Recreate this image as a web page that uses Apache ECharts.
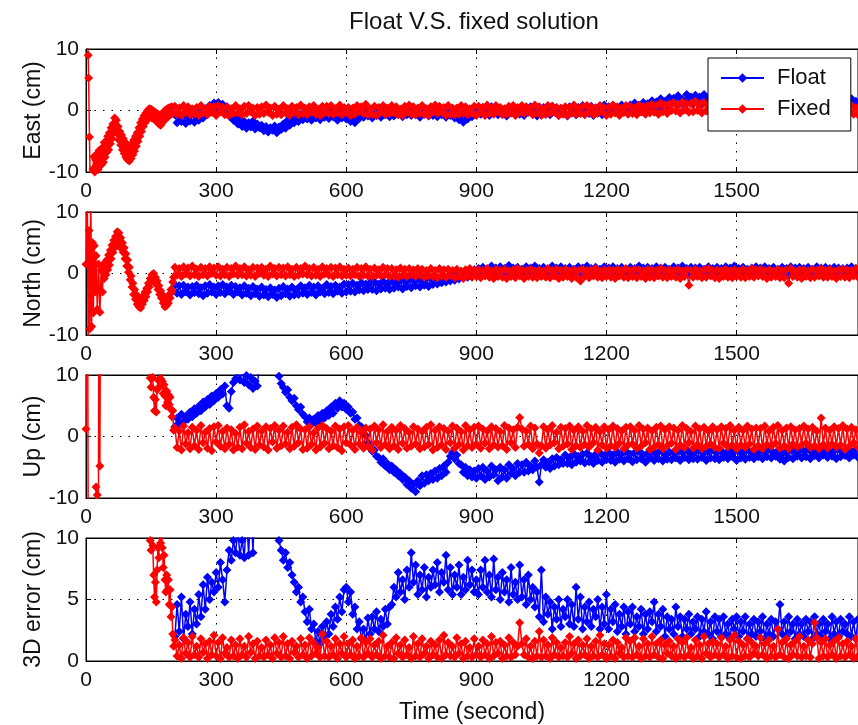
<!DOCTYPE html>
<html><head><meta charset="utf-8">
<script src="https://cdn.jsdelivr.net/npm/echarts@6/dist/echarts.min.js"></script>
<style>html,body{margin:0;padding:0;background:#fff}#c{width:858px;height:725px}</style>
</head><body><div id="c"></div>
<script>
// ---------- DATA (cm, time in seconds) ----------
const titleText = 'Float V.S. fixed solution';
const panelNames = ['East (cm)', 'North (cm)', 'Up (cm)', '3D error (cm)'];
const xTicks = [0, 300, 600, 900, 1200, 1500];
const xName = 'Time (second)';

// sample times of the steady part: every 5 s from 205 to 1800
const T = [];
for (let t = 205; t <= 1800; t += 5) T.push(t);

// early convergence phase of the fixed solution, [time, value]
const E_fixEarly = [[3,12],[5,9],[6,5.3],[8,-4.3],[10,-14],[14,-14],[16,-9.5],[18,-7.5],[20,-10],[22,-8],[24,-10.4],[26,-7],[28,-9.6],[30,-6.5],[32,-9],[34,-7.2],[36,-8.8],[38,-6],[40,-8.4],[42,-5.2],[44,-7.6],[46,-5],[48,-6.8],[50,-4.2],[52,-6.4],[54,-3.6],[56,-5.4],[58,-2.8],[60,-4.6],[62,-2.2],[64,-3.6],[66,-1.2],[68,-2.8],[70,-1.6],[72,-3.8],[74,-2.6],[76,-4.8],[78,-3.4],[80,-5.6],[82,-4.0],[84,-6.4],[86,-4.6],[88,-7.0],[90,-5.2],[92,-7.6],[94,-5.4],[96,-8.0],[98,-6.0],[100,-8.2],[102,-5.8],[104,-7.8],[106,-5.4],[108,-7.2],[110,-4.8],[112,-6.6],[114,-4.2],[116,-5.8],[118,-3.6],[120,-5.0],[122,-2.8],[124,-4.2],[126,-2.0],[128,-3.4],[130,-1.4],[132,-2.6],[134,-0.8],[136,-2.0],[138,-0.4],[140,-1.6],[142,0.0],[144,-1.2],[146,0.3],[148,-1.0],[150,0.2],[152,-1.2],[154,0.0],[156,-1.4],[158,-0.2],[160,-1.6],[162,-0.4],[164,-1.8],[166,-0.6],[168,-2.2],[170,-0.8],[172,-2.4],[174,-0.6],[176,-2.0],[178,-0.4],[180,-1.6],[182,0.0],[184,-1.4],[186,0.2],[188,-1.0],[190,0.4],[192,-0.8],[194,0.5],[196,-0.6],[198,0.6],[200,-0.5]];
const N_fixEarly = [[0,1.5],[3,14],[5,-14],[7,7],[9,-9],[11,14],[13,-8.6],[15,5],[17,-6.4],[19,4.5],[21,-3],[23,2.9],[26,-5.8],[29,1.5],[32,-6.3],[35,0.5],[38,-3],[40,1.4],[42,-0.8],[44,1.8],[46,-0.2],[48,2.2],[50,0.6],[52,3.0],[54,1.4],[56,3.8],[58,2.4],[60,4.6],[62,3.4],[64,5.4],[66,4.2],[68,6.0],[70,4.8],[72,6.8],[74,5.6],[76,6.6],[78,4.8],[80,5.8],[82,4.0],[84,5.0],[86,3.4],[88,4.2],[90,2.4],[92,3.2],[94,1.2],[96,2.2],[98,0.2],[100,1.0],[102,-1.0],[104,-0.4],[106,-2.2],[108,-1.6],[110,-3.4],[112,-2.6],[114,-4.2],[116,-3.4],[118,-5.0],[120,-4.0],[122,-5.4],[124,-4.4],[126,-5.6],[128,-4.2],[130,-5.0],[132,-3.6],[134,-4.4],[136,-3.0],[138,-3.8],[140,-2.4],[142,-3.0],[144,-1.6],[146,-2.2],[148,-0.8],[150,-1.4],[152,-0.2],[154,-1.0],[156,0.0],[158,-1.2],[160,-0.6],[162,-1.8],[164,-1.2],[166,-2.6],[168,-2.0],[170,-3.4],[172,-2.8],[174,-4.0],[176,-3.4],[178,-4.8],[180,-4.0],[182,-5.4],[184,-4.4],[186,-5.2],[188,-4.0],[190,-4.8],[192,-3.4],[194,-4.0],[196,-2.6],[198,-3.0],[200,-1.4],[202,-0.6]];
const U_fixEarly = [[0,1.2],[3,40],[6,-40],[20,-40],[23,-8.2],[26,-9.5],[28,-40],[30,40],[32,-4.8],[34,40],[146,40],[148,9.5],[150,8],[152,10.4],[154,9.6],[156,6.4],[158,4.2],[160,6.0],[162,4.0],[164,7.6],[166,9.2],[168,8.0],[170,10.4],[172,9.4],[174,10.8],[176,9.0],[178,7.0],[180,8.4],[182,6.6],[184,5.0],[186,7.4],[188,5.6],[190,6.8],[192,5.2],[194,6.4],[196,4.4],[198,3.2],[200,4.2],[202,1.0]];
const D_fixEarly = [[0,40],[146,40],[148,9.8],[150,9.0],[152,10.5],[154,9.4],[156,7.0],[158,5.2],[160,6.4],[162,4.8],[164,7.4],[166,9.2],[168,8.4],[170,10.6],[172,9.6],[174,10.8],[176,9.2],[178,7.6],[180,8.6],[182,6.6],[184,5.6],[186,7.0],[188,5.8],[190,6.6],[192,4.6],[194,5.8],[196,3.6],[198,4.4],[200,2.2],[202,1.2]];

// steady part, one value per entry of T (10 values = 50 s per row)
const E_fix = [
0.7,-0.6,0.4,-0.8,0.8,-0.3,0.6,-0.7,0.3,-0.5, 0.5,-0.8,0.8,-0.4,0.2,-0.7,0.7,-0.2,0.6,-0.8,
0.8,-0.2,0.5,-0.7,0.6,-0.8,0.3,-0.5,0.8,-0.4, 0.3,-0.7,0.7,-0.5,0.8,-0.2,0.4,-0.8,0.5,-0.6,
0.6,-0.5,0.9,-0.3,0.4,-0.8,0.7,-0.6,0.2,-0.7, 0.8,-0.4,0.3,-0.8,0.7,-0.2,0.5,-0.7,0.9,-0.5,
0.4,-0.7,0.6,-0.3,0.8,-0.6,0.2,-0.8,0.7,-0.4, 0.7,-0.5,0.8,-0.6,0.3,-0.4,0.9,-0.7,0.5,-0.3,
0.5,-0.8,0.4,-0.6,0.8,-0.2,0.6,-0.5,1.0,-0.7, 0.3,-0.6,0.7,-0.8,0.5,-0.3,0.8,-0.6,0.4,-0.5,
0.8,-0.4,0.6,-0.7,0.2,-0.8,0.7,-0.3,0.9,-0.6, 0.6,-0.7,0.4,-0.5,0.8,-0.6,0.3,-0.8,0.6,-0.2,
0.9,-0.5,0.7,-0.3,0.5,-0.8,0.8,-0.6,0.4,-0.7, 0.4,-0.6,0.8,-0.4,0.6,-0.7,0.3,-0.5,0.7,-0.8,
0.7,-0.3,0.5,-0.8,0.9,-0.5,0.4,-0.6,0.8,-0.2, 0.5,-0.7,0.3,-0.6,0.7,-0.4,0.8,-0.8,0.5,-0.3,
0.8,-0.5,0.6,-0.2,0.4,-0.7,0.9,-0.4,0.6,-0.8, 0.3,-0.6,0.8,-0.5,0.7,-0.3,0.5,-0.8,0.4,-0.6,
0.6,-0.8,0.5,-0.4,0.9,-0.6,0.3,-0.5,0.7,-0.7, 0.8,-0.3,0.6,-0.7,0.4,-0.5,0.8,-0.2,0.5,-0.8,
0.5,-0.6,0.9,-0.4,0.6,-0.8,0.4,-0.3,0.8,-0.6, 0.7,-0.5,0.4,-0.7,0.9,-0.2,0.6,-0.6,0.8,-0.4,
1.0,-0.3,0.8,-0.6,1.2,-0.2,0.9,-0.5,1.1,0.0, 1.3,-0.1,0.9,-0.4,1.4,0.1,1.0,-0.3,1.2,-0.2,
1.5,0.0,1.1,-0.4,1.3,-0.1,0.9,-0.5,1.2,-0.2, 1.0,-0.4,1.2,-0.3,0.8,-0.6,1.1,-0.2,0.9,-0.5,
0.8,-0.6,0.6,-0.4,0.9,-0.7,0.5,-0.3,0.7,-0.5, 0.6,-0.7,0.8,-0.5,0.4,-0.6,0.9,-0.3,0.7,-0.8,
0.7,-0.4,0.5,-0.8,0.8,-0.5,0.3,-0.6,0.9,-0.4, 0.5,-0.6,0.9,-0.3,0.6,-0.7,0.8,-0.5,0.4,-0.6,
0.8,-0.5,0.6,-0.7,0.4,-0.3,0.9,-0.6,0.7,-0.4, 0.6,-0.3,0.8,-0.6,0.5,-0.7,0.7,-0.4,0.9,-0.5];
const E_float = [
-0.7,-2.0,-0.9,-1.8,-0.6,-2.1,-1.0,-1.7,-0.5,-1.9, -0.8,-1.6,-0.2,-1.2,0.3,-0.6,0.8,-0.3,1.2,0.2,
1.3,0.1,1.0,-0.2,0.6,-0.9,-0.4,-1.6,-1.1,-2.2, -1.5,-2.6,-1.8,-2.9,-2.0,-2.7,-1.7,-3.0,-2.2,-2.8,
-2.4,-3.3,-2.6,-3.5,-2.8,-3.2,-2.5,-3.6,-2.7,-3.1, -2.2,-2.9,-1.6,-2.4,-1.3,-2.0,-0.9,-1.8,-0.7,-1.5,
-0.5,-1.4,-0.3,-1.6,-0.6,-1.2,-0.2,-1.5,-0.4,-1.1, -0.3,-1.3,0.1,-1.0,-0.5,-1.6,-0.1,-1.2,-0.4,-1.4,
-0.6,-1.8,-0.9,-2.0,-0.5,-1.3,-0.2,-1.1,0.1,-0.9, -0.4,-1.2,0.2,-0.8,-0.3,-1.1,0.1,-0.7,-0.2,-1.0,
-0.1,-0.9,0.3,-0.6,-0.2,-1.0,0.2,-0.7,0.0,-0.8, 0.1,-0.7,-0.2,-1.1,0.2,-0.6,-0.3,-0.9,0.1,-0.8,
-0.2,-1.0,0.2,-0.7,-0.1,-1.1,0.0,-0.8,-0.3,-1.2, -0.4,-1.5,-0.8,-1.9,-0.6,-1.4,-0.2,-1.0,0.1,-0.7,
0.3,-0.6,0.5,-0.4,0.1,-0.8,0.6,-0.3,0.2,-0.7, 0.4,-0.5,0.2,-0.9,0.5,-0.4,0.7,-0.2,0.3,-0.6,
0.2,-0.8,0.5,-0.3,0.6,-0.6,0.1,-0.9,0.4,-0.4, 0.5,-0.6,0.3,-0.7,0.7,-0.2,0.4,-0.8,0.2,-0.5,
0.4,-0.9,0.6,-0.4,0.2,-0.7,0.5,-0.3,0.8,-0.6, 0.3,-0.5,0.7,-0.8,0.4,-0.2,0.6,-0.7,0.9,-0.3,
0.6,-0.4,0.8,-0.2,0.4,-0.6,0.9,-0.3,0.5,-0.1, 0.9,0.0,1.2,0.2,0.8,-0.2,1.3,0.4,1.1,0.3,
1.6,0.6,1.4,0.5,1.9,0.8,1.5,0.7,2.1,1.0, 2.0,1.0,2.4,1.2,1.8,0.9,2.6,1.4,2.2,1.1,
2.5,1.3,2.2,1.0,2.6,1.5,2.0,1.2,2.3,1.1, 1.9,0.9,2.2,1.2,1.7,0.8,2.0,1.1,1.8,1.0,
2.0,1.0,1.7,0.8,2.1,1.1,1.6,0.7,1.9,1.2, 1.8,0.9,2.0,1.1,1.5,0.6,1.9,1.0,1.7,0.8,
2.1,1.0,1.6,0.7,1.9,1.2,1.5,0.9,2.0,1.1, 1.7,0.8,2.0,1.1,1.6,0.7,1.8,1.0,1.5,0.9,
1.9,1.0,1.6,0.8,2.1,1.2,1.7,0.9,1.8,1.0, 1.6,0.7,1.9,1.1,1.5,0.8,2.0,1.2,1.7,0.9];
const N_fix = [
1.0,-0.3,0.8,-0.5,1.1,-0.1,0.9,-0.4,1.2,-0.2, 0.7,-0.5,1.0,-0.2,0.8,-0.4,1.1,0.0,0.9,-0.3,
1.1,-0.4,0.7,-0.2,1.0,-0.5,0.8,-0.1,1.2,-0.3, 0.8,-0.2,1.1,-0.4,0.6,-0.3,1.0,-0.5,0.9,0.0,
1.0,-0.3,0.7,-0.5,1.2,-0.1,0.8,-0.4,1.0,-0.2, 0.9,-0.4,1.1,-0.2,0.7,-0.5,1.0,-0.3,0.8,-0.1,
1.2,-0.2,0.8,-0.4,1.0,-0.3,0.7,-0.5,1.1,-0.1, 0.8,-0.3,1.0,-0.5,0.9,-0.2,1.1,-0.4,0.7,-0.3,
0.9,-0.4,0.7,-0.2,1.0,-0.5,0.8,-0.3,1.1,-0.4, 0.7,-0.5,0.9,-0.3,0.6,-0.4,1.0,-0.2,0.8,-0.5,
0.8,-0.4,0.6,-0.6,0.9,-0.3,0.7,-0.5,0.8,-0.2, 0.6,-0.5,0.8,-0.3,0.7,-0.6,0.5,-0.4,0.8,-0.5,
0.5,-0.7,0.8,-0.4,0.6,-0.6,0.7,-0.3,0.5,-0.7, 0.7,-0.5,0.4,-0.8,0.6,-0.4,0.8,-0.6,0.5,-0.5,
0.6,-0.7,0.5,-0.4,0.8,-0.6,0.4,-0.8,0.7,-0.5, 0.5,-0.6,0.7,-0.8,0.4,-0.5,0.6,-0.7,0.8,-0.4,
0.6,-0.8,0.5,-0.5,0.7,-0.6,0.4,-0.7,0.6,-0.5, 0.4,-0.6,0.8,-0.7,0.5,-0.4,0.7,-0.8,0.5,-0.6,
0.7,-0.5,0.4,-0.8,0.6,-0.6,0.5,-1.2,0.7,-0.5, 0.5,-0.7,0.6,-0.4,0.8,-0.6,0.4,-0.7,0.6,-0.5,
0.6,-0.6,0.5,-0.8,0.7,-0.4,0.5,-0.6,0.8,-0.7, 0.4,-0.5,0.7,-0.7,0.6,-0.5,0.4,-0.8,0.7,-0.6,
0.6,-0.7,0.5,-0.4,0.8,-0.6,0.5,-0.7,0.6,-0.5, 0.5,-0.6,0.7,-0.8,0.4,-0.5,0.6,-1.9,0.5,-0.6,
0.7,-0.5,0.4,-0.7,0.6,-0.6,0.8,-0.4,0.5,-0.7, 0.6,-0.8,0.5,-0.5,0.7,-0.6,0.4,-0.7,0.6,-0.5,
0.4,-0.6,0.7,-0.7,0.5,-0.5,0.8,-0.6,0.6,-0.4, 0.7,-0.5,0.5,-0.8,0.6,-0.6,0.4,-0.5,0.7,-0.7,
0.5,-0.7,0.6,-1.6,0.8,-0.5,0.4,-0.6,0.6,-0.8, 0.6,-0.5,0.4,-0.7,0.7,-0.6,0.5,-0.4,0.8,-0.6,
0.5,-0.6,0.7,-0.5,0.4,-0.8,0.6,-0.5,0.7,-0.6, 0.6,-0.7,0.5,-0.4,0.8,-0.6,0.4,-0.7,0.6,-0.5];
const N_float = [
-1.8,-3.2,-2.0,-3.4,-1.9,-3.0,-2.2,-3.5,-2.1,-3.1, -1.9,-3.3,-2.3,-3.6,-2.0,-3.2,-1.8,-3.0,-2.2,-3.4,
-2.0,-3.1,-1.8,-3.3,-2.2,-2.9,-1.9,-3.4,-2.1,-3.0, -2.3,-3.5,-2.0,-3.2,-2.4,-3.6,-2.1,-3.3,-2.5,-3.7,
-2.2,-3.5,-2.6,-3.8,-2.3,-3.4,-2.7,-3.9,-2.4,-3.6, -2.1,-3.3,-2.5,-3.7,-2.2,-3.5,-2.6,-3.4,-2.0,-3.2,
-2.3,-3.4,-1.9,-3.1,-2.2,-3.5,-2.0,-3.0,-2.4,-3.3, -1.8,-3.1,-2.1,-3.3,-1.9,-2.9,-2.2,-3.2,-1.7,-3.0,
-1.8,-2.9,-1.6,-3.0,-1.9,-2.7,-1.5,-2.8,-1.7,-2.6, -1.5,-2.6,-1.4,-2.8,-1.7,-2.5,-1.3,-2.4,-1.6,-2.6,
-1.2,-2.4,-1.5,-2.2,-1.1,-2.5,-1.3,-2.1,-1.0,-2.3, -1.1,-2.0,-0.8,-2.2,-1.2,-1.9,-0.9,-2.1,-0.7,-1.8,
-0.6,-1.7,-0.8,-1.5,-0.4,-1.4,-0.6,-1.2,-0.2,-1.1, -0.1,-0.9,0.2,-0.7,0.0,-0.6,0.4,-0.5,0.6,-0.3,
0.8,-0.2,1.0,0.0,0.7,-0.3,1.2,0.1,0.9,-0.1, 1.1,0.0,0.8,-0.2,1.3,0.2,0.9,-0.1,1.0,0.1,
0.7,-0.2,1.1,0.1,0.9,-0.3,1.2,0.0,0.8,-0.1, 1.0,0.1,0.7,-0.2,1.2,0.2,0.9,-0.1,1.1,0.0,
0.8,-0.2,1.0,0.1,0.7,-0.3,1.1,0.0,0.9,-0.1, 1.2,0.1,0.8,-0.2,1.0,0.0,0.7,-0.2,1.1,0.1,
0.9,-0.1,1.1,0.2,0.8,-0.2,1.0,0.0,0.7,-0.3, 1.0,0.1,0.8,-0.1,1.2,0.2,0.9,-0.2,1.0,0.0,
0.8,-0.2,1.1,0.1,0.9,-0.1,1.0,0.0,0.7,-0.3, 1.1,0.0,0.9,-0.2,1.2,0.1,0.8,-0.1,1.0,0.0,
0.9,-0.1,1.0,0.1,0.7,-0.2,1.1,0.2,0.8,-0.1, 1.0,0.0,0.8,-0.2,1.1,0.1,0.9,-0.1,1.2,0.0,
0.8,-0.1,1.0,0.2,0.7,-0.2,0.9,0.0,1.1,0.1, 0.9,-0.2,1.1,0.0,0.8,-0.1,1.0,0.1,0.7,-0.2,
1.0,0.1,0.8,-0.1,1.1,0.0,0.9,-0.2,1.0,0.1, 0.8,-0.1,1.0,0.1,0.7,-0.2,1.1,0.0,0.9,-0.1,
1.0,0.0,0.8,-0.2,1.0,0.1,0.9,-0.1,0.8,0.0, 0.9,-0.1,1.1,0.1,0.8,-0.2,1.0,0.0,0.9,-0.1];
const U_fix = [
1.4,-1.8,0.9,-2.2,1.7,-1.2,0.6,-2.0,1.5,-1.5, 1.0,-2.1,1.8,-1.0,0.7,-1.9,1.3,-2.3,1.6,-0.9,
1.8,-1.6,0.8,-2.0,1.4,-1.3,1.1,-2.2,0.5,-1.7, 1.5,-2.0,1.9,-1.1,0.8,-1.8,1.2,-2.1,1.7,-1.4,
0.9,-1.7,1.6,-2.2,1.3,-0.9,1.8,-1.9,1.0,-1.5, 1.7,-1.2,0.7,-2.0,1.5,-1.6,1.9,-1.0,1.2,-2.1,
1.1,-1.9,1.6,-1.3,0.6,-2.2,1.4,-1.7,1.8,-1.1, 1.3,-2.0,0.9,-1.5,1.7,-1.8,1.2,-2.3,1.6,-1.0,
1.8,-1.4,1.0,-2.1,1.5,-1.2,0.7,-1.9,1.4,-1.6, 1.2,-2.2,1.7,-1.0,1.1,-1.8,1.9,-1.3,0.8,-2.0,
1.5,-1.5,1.0,-2.1,1.8,-1.1,1.3,-1.9,0.7,-1.6, 1.6,-1.2,1.2,-2.0,0.8,-1.7,1.5,-1.3,1.9,-2.2,
1.0,-1.8,1.6,-1.4,1.3,-2.1,0.9,-1.0,1.7,-1.9, 1.4,-1.3,0.8,-2.2,1.8,-1.5,1.1,-1.8,1.5,-1.2,
1.7,-1.9,1.2,-1.1,0.9,-2.0,1.6,-1.4,1.3,-1.7, 0.8,-1.5,1.8,-2.1,1.4,-1.0,1.1,-1.8,1.5,3.1,
1.2,-1.6,0.9,-1.3,1.7,-2.0,1.4,-1.2,-2.7,-1.5, 1.6,-1.9,1.1,-1.4,1.8,-1.0,0.7,-2.0,1.5,-1.6,
1.3,-1.2,1.7,-2.1,1.0,-1.5,1.6,-1.8,0.9,-1.3, 1.8,-1.7,1.2,-1.0,1.5,-2.2,0.8,-1.4,1.6,-1.9,
1.1,-1.5,1.7,-1.8,1.3,-1.1,0.9,-2.0,1.5,-1.4, 1.6,-1.2,1.0,-1.9,1.8,-1.6,1.2,-1.0,1.4,-2.1,
0.9,-1.7,1.5,-1.3,1.7,-2.0,1.1,-1.5,1.6,-1.1, 1.4,-2.1,1.0,-1.4,1.8,-1.8,1.3,-1.0,0.8,-1.9,
1.7,-1.3,1.2,-2.0,1.5,-1.6,0.9,-1.2,1.6,-1.8, 1.1,-1.9,1.6,-1.1,1.3,-1.7,1.8,-1.4,1.0,-2.0,
1.5,-1.4,1.0,-1.8,1.7,-1.2,1.2,-2.1,1.4,-1.5, 1.3,-2.0,1.7,-1.3,0.9,-1.6,1.5,-1.1,1.8,-1.9,
1.0,-1.5,1.4,-2.0,1.6,-1.2,1.1,-1.7,1.3,-1.4, 1.7,-1.1,1.2,-1.8,1.5,-1.5,0.9,-2.0,3.0,-1.3,
1.4,-1.9,1.0,-1.2,1.6,-1.7,1.3,-1.4,1.8,-2.1, 1.2,-1.6,1.5,-1.0,1.1,-1.8,1.7,-1.3,1.4,-1.5];
const U_float = [
1.6,3.0,2.0,3.6,2.4,3.3,2.8,4.0,3.2,4.5, 3.8,4.9,4.2,5.6,4.8,6.0,5.2,6.6,5.8,7.0,
6.4,7.6,6.9,8.2,5.0,4.6,7.3,8.8,9.4,10.4, 9.2,10.6,8.8,9.9,8.4,9.6,7.8,9.0,8.2,12,
15,15,15,15,15,15,15,10.6,9.8,8.6, 8.0,7.2,7.6,6.4,5.8,6.2,5.0,4.4,4.8,3.6,
3.2,2.4,3.0,2.0,2.8,2.2,3.4,2.6,3.8,3.0, 4.2,3.4,4.8,3.8,5.4,4.6,5.8,4.8,5.4,4.4,
4.8,3.8,4.0,2.8,3.0,1.8,1.6,0.4,0.2,-1.0, -1.4,-2.4,-2.2,-3.2,-3.4,-4.2,-3.6,-4.8,-4.4,-5.4,
-4.8,-5.8,-5.4,-6.4,-6.0,-7.0,-6.6,-7.8,-7.2,-8.4, -7.8,-9.0,-7.2,-8.0,-6.4,-7.6,-6.2,-7.2,-6.0,-7.0,
-5.6,-6.8,-5.2,-6.4,-4.8,-5.8,-4.2,-3.2,-2.6,-3.6, -3.0,-4.4,-4.6,-5.8,-5.0,-6.4,-5.4,-6.6,-5.6,-6.8,
-5.2,-6.4,-5.0,-7.0,-5.6,-6.6,-4.8,-6.2,-5.4,-7.2, -5.0,-6.6,-5.4,-6.8,-4.6,-6.0,-5.2,-6.4,-4.4,-5.8,
-4.6,-5.8,-4.2,-5.6,-4.8,-5.4,-4.0,-5.0,-7.4,-4.6, -3.8,-5.0,-4.2,-5.2,-3.6,-4.8,-3.4,-4.6,-3.8,-4.4,
-3.0,-4.4,-3.4,-4.6,-2.8,-4.2,-3.2,-4.0,-2.9,-4.3, -2.7,-4.1,-3.3,-4.4,-2.9,-3.9,-2.6,-4.2,-3.1,-3.8,
-2.6,-3.9,-3.0,-4.2,-2.5,-3.7,-2.8,-4.0,-2.4,-3.6, -2.9,-4.1,-2.6,-3.8,-2.3,-3.6,-3.0,-4.2,-2.7,-3.5,
-2.4,-3.9,-2.8,-3.6,-2.2,-4.0,-2.9,-3.7,-2.5,-3.8, -2.7,-3.5,-2.3,-3.9,-2.6,-3.4,-2.2,-3.8,-2.8,-3.6,
-2.5,-3.7,-2.2,-3.4,-2.7,-3.9,-2.4,-3.5,-2.1,-3.6, -2.6,-3.8,-2.3,-3.4,-2.8,-3.6,-2.2,-3.3,-2.5,-3.9,
-2.3,-3.5,-2.6,-3.7,-2.1,-3.4,-2.7,-3.6,-2.4,-3.3, -2.2,-3.6,-2.5,-3.3,-2.0,-3.5,-2.6,-3.2,-2.3,-3.7,
-2.8,-4.0,-2.4,-3.4,-2.1,-3.6,-2.5,-3.2,-2.2,-3.5, -2.4,-3.3,-2.0,-3.6,-2.6,-3.1,-2.2,-3.5,-2.5,-3.0,
-2.1,-3.4,-2.5,-3.2,-2.3,-3.6,-2.0,-3.3,-2.6,-3.1, -2.2,-3.5,-2.4,-3.0,-2.1,-3.4,-2.5,-3.2,-2.3,-3.6];
const D_fix = [
1.7,0.4,1.3,0.2,1.9,0.6,1.5,0.3,2.0,0.5, 1.2,0.3,1.8,0.7,1.4,0.2,1.6,0.5,2.1,0.4,
1.5,0.2,1.9,0.6,1.1,0.3,1.7,0.4,1.3,0.2, 1.8,0.5,1.2,0.3,2.0,0.7,1.4,0.2,1.6,0.4,
1.1,0.3,1.7,0.5,1.3,0.2,1.9,0.6,1.5,0.3, 2.0,0.4,1.4,0.2,1.6,0.7,1.2,0.3,1.8,0.5,
1.3,0.2,1.9,0.4,1.5,0.6,1.1,0.3,2.2,0.4, 1.6,0.3,1.2,0.5,1.8,0.2,1.4,0.6,2.0,0.3,
1.4,0.5,1.7,0.2,1.2,0.4,1.9,0.3,1.5,0.6, 1.8,0.3,1.3,0.5,1.6,0.2,2.1,0.4,1.2,0.3,
1.5,0.2,1.9,0.6,1.3,0.3,1.7,0.5,1.1,0.2, 2.0,0.4,1.4,0.3,1.8,0.6,1.2,0.2,1.6,0.5,
1.3,0.3,1.7,0.2,2.1,0.5,1.5,0.4,1.2,0.3, 1.9,0.6,1.4,0.2,1.6,0.4,1.1,0.3,1.8,0.5,
1.2,0.3,1.7,0.5,1.4,0.2,2.0,0.4,1.5,0.6, 1.6,0.2,1.3,0.4,1.9,0.3,1.5,0.5,1.2,3.1,
1.4,0.5,1.8,0.3,1.2,0.2,1.6,0.4,2.4,0.3, 1.7,0.4,1.3,0.2,1.9,0.5,1.5,0.3,1.1,0.4,
1.5,0.3,2.0,0.6,1.4,0.2,1.7,0.4,1.3,0.5, 1.8,0.2,1.2,0.4,1.6,0.3,2.1,0.5,1.4,0.2,
1.3,0.4,1.7,0.2,1.5,0.6,1.1,0.3,1.9,0.4, 1.6,0.3,1.9,0.5,1.2,0.2,1.8,0.4,1.4,0.3,
2.0,0.5,1.4,0.3,1.7,0.2,1.3,0.6,1.6,0.4, 1.2,0.2,1.8,0.4,1.5,0.3,1.9,0.5,1.1,0.2,
1.7,0.4,1.3,0.2,2.0,0.6,1.4,0.3,1.6,0.5, 1.4,0.3,1.9,0.5,1.2,0.2,1.7,0.4,2.1,0.3,
1.6,0.2,1.3,0.4,1.8,0.3,1.5,0.6,1.2,0.4, 1.9,0.5,1.4,0.2,1.7,0.4,1.2,0.3,2.6,0.5,
1.5,0.3,1.8,0.2,1.3,0.5,1.6,0.4,2.0,0.3, 1.2,0.4,1.7,0.3,1.4,3.1,1.9,0.2,1.5,0.4,
1.8,0.3,1.3,0.5,1.6,0.2,1.9,0.4,1.4,0.3, 1.6,0.5,1.2,0.2,1.8,0.4,1.5,0.3,1.3,0.5];
const D_float = [
2.0,4.6,2.4,5.2,1.8,3.8,2.8,4.8,2.2,4.2, 3.0,5.4,3.6,6.2,4.2,6.8,5.0,6.4,5.6,7.2,
6.0,8.0,6.6,4.8,7.4,9.0,8.2,9.8,8.8,10.6, 8.6,9.8,8.4,12,8.6,13,8.8,14,15,15,
15,15,15,15,15,15,15,10.8,9.8,9.0, 8.2,8.8,7.6,8.0,7.0,6.4,5.6,6.0,4.8,5.2,
4.0,3.2,4.2,2.6,3.0,1.6,2.4,1.4,2.8,2.0, 3.2,2.2,3.8,2.8,4.4,3.4,5.2,4.0,5.8,6.0,
4.8,5.6,3.8,4.4,2.6,3.2,1.8,2.6,1.6,3.5, 2.2,3.6,2.6,4.0,2.4,3.4,2.8,4.2,3.0,4.4,
4.6,6.0,5.2,7.2,5.6,6.6,5.0,7.4,6.0,8.8, 6.4,7.8,5.4,7.0,5.8,7.6,5.2,6.8,6.0,7.4,
6.2,8.0,5.6,7.2,6.4,8.6,5.8,7.6,5.4,7.0, 6.0,7.8,5.4,6.8,5.8,8.2,6.2,7.4,5.6,6.6,
5.4,7.4,6.0,8.2,5.6,7.0,5.2,8.3,5.8,6.8, 5.0,7.2,5.6,6.6,4.8,7.6,5.4,6.4,5.0,7.8,
5.2,6.6,4.6,7.0,5.0,6.0,4.4,5.6,3.6,7.4, 3.2,5.2,3.8,4.8,2.6,4.4,3.4,5.0,2.8,4.2,
3.6,5.0,3.0,4.6,2.8,6.0,3.4,5.2,2.6,4.4, 3.2,4.8,2.8,4.2,3.6,5.0,2.6,4.4,3.0,5.4,
2.6,4.2,3.2,4.6,2.4,3.8,2.8,4.4,2.2,4.0, 3.0,4.4,2.4,3.6,2.8,4.2,2.2,3.8,2.6,4.0,
3.2,4.8,2.4,3.8,2.8,4.2,2.0,3.6,2.6,3.4, 2.2,4.4,2.8,3.6,2.0,3.4,2.6,3.8,2.2,3.2,
2.6,3.6,2.0,3.4,2.4,4.0,2.2,3.2,1.8,3.6, 2.4,3.4,2.0,3.6,2.2,3.0,1.8,3.4,2.6,3.6,
2.0,3.2,2.4,3.6,1.8,3.0,2.2,3.4,2.0,3.2, 2.4,3.6,1.8,3.0,2.2,3.4,2.0,3.2,2.6,4.6,
2.2,3.2,2.0,3.6,2.4,3.0,1.8,3.4,2.2,3.0, 2.0,3.4,2.4,3.2,1.8,3.6,2.2,3.0,2.0,3.4,
2.4,3.0,1.8,3.6,2.2,3.2,2.0,3.4,2.4,3.0, 2.2,3.6,2.0,3.2,1.8,3.4,2.4,3.0,2.2,3.5];

// ---------- BUILD ----------
function pairs(early, vals) { return early.concat(vals.map((v, i) => [T[i], v])); }
const floatSets = [pairs([], E_float), pairs([], N_float), pairs([], U_float), pairs([], D_float)];
const fixedSets = [pairs(E_fixEarly, E_fix), pairs(N_fixEarly, N_fix), pairs(U_fixEarly, U_fix), pairs(D_fixEarly, D_fix)];

const FONT = '"Liberation Sans", Arial, Helvetica, sans-serif';
const FS = 21, FS_NAME = 23, FS_TITLE = 24, FS_LEG = 22;
const TXT = '#111';
const tops = [49, 212, 375, 538];
const xMax = 1780;
const dotted = {color: '#000', width: 1, type: [1.5, 7]};
const SYM = 9, LW = 1.5;

const grid = [], xAxis = [], yAxis = [], series = [];
for (let i = 0; i < 4; i++) {
  grid.push({left: 86, top: tops[i], width: 774, height: 123, show: true, borderColor: '#000', borderWidth: 1, backgroundColor: '#fff'});
  xAxis.push({
    gridIndex: i, type: 'value', min: xTicks[0], max: xMax, interval: xTicks[1] - xTicks[0], position: 'bottom',
    axisLine: {show: true, onZero: false, lineStyle: {color: '#000', width: 1}},
    axisTick: {show: true, inside: true, length: 5, lineStyle: {color: '#000'}},
    axisLabel: {show: true, fontSize: FS, color: TXT, fontFamily: FONT, margin: 9, showMaxLabel: false,
                formatter: v => String(v)},
    splitLine: {show: true, lineStyle: dotted},
    name: i === 3 ? xName : '', nameLocation: 'middle', nameGap: 40, nameMoveOverlap: false,
    nameTextStyle: {fontSize: FS_NAME, color: TXT, fontFamily: FONT}
  });
  yAxis.push({
    gridIndex: i, type: 'value', min: i < 3 ? -10 : 0, max: 10, interval: i < 3 ? 10 : 5,
    axisLine: {show: true, onZero: false, lineStyle: {color: '#000', width: 1}},
    axisTick: {show: true, inside: true, length: 5, lineStyle: {color: '#000'}},
    axisLabel: {show: true, fontSize: FS, color: TXT, fontFamily: FONT, margin: 7, formatter: v => String(v)},
    splitLine: {show: true, lineStyle: dotted},
    name: panelNames[i], nameLocation: 'middle', nameGap: 41, nameRotate: 90, nameMoveOverlap: false,
    nameTextStyle: {fontSize: FS_NAME, color: TXT, fontFamily: FONT}
  });
}
for (let i = 0; i < 4; i++) {
  xAxis.push({
    gridIndex: i, type: 'value', min: xTicks[0], max: xMax, interval: xTicks[1] - xTicks[0], position: 'top',
    axisLine: {show: true, onZero: false, lineStyle: {color: '#000', width: 1}},
    axisTick: {show: true, inside: true, length: 5, lineStyle: {color: '#000'}},
    axisLabel: {show: false}, splitLine: {show: false}
  });
}
for (let i = 0; i < 4; i++) {
  series.push({
    name: 'Float', type: 'line', xAxisIndex: i, yAxisIndex: i, data: floatSets[i],
    symbol: 'diamond', symbolSize: SYM, showSymbol: true, showAllSymbol: true, clip: true,
    lineStyle: {color: '#0000ff', width: LW}, itemStyle: {color: '#0000ff'}, z: 2, silent: true
  });
  series.push({
    name: 'Fixed', type: 'line', xAxisIndex: i, yAxisIndex: i, data: fixedSets[i],
    symbol: 'diamond', symbolSize: SYM, showSymbol: true, showAllSymbol: true, clip: true,
    lineStyle: {color: '#ff0000', width: LW}, itemStyle: {color: '#ff0000'}, z: 3, silent: true
  });
}

const chart = echarts.init(document.getElementById('c'), null, {renderer: 'canvas'});
chart.setOption({
  animation: false,
  backgroundColor: '#fff',
  textStyle: {fontFamily: FONT},
  title: {text: titleText, left: 469, top: 5, textAlign: 'center',
          textStyle: {fontSize: FS_TITLE, fontWeight: 'normal', color: TXT, fontFamily: FONT}},
  legend: {
    data: ['Float', 'Fixed'], orient: 'vertical', left: 708, top: 58,
    padding: [9, 20, 11, 12], itemWidth: 43, itemHeight: 12, itemGap: 9,
    borderColor: '#000', borderWidth: 1, backgroundColor: '#fff', z: 20,
    textStyle: {fontSize: FS_LEG, color: TXT, fontFamily: FONT, padding: [0, 0, 0, 8], lineHeight: 20}
  },
  grid, xAxis, yAxis, series
});
</script>
</body></html>
